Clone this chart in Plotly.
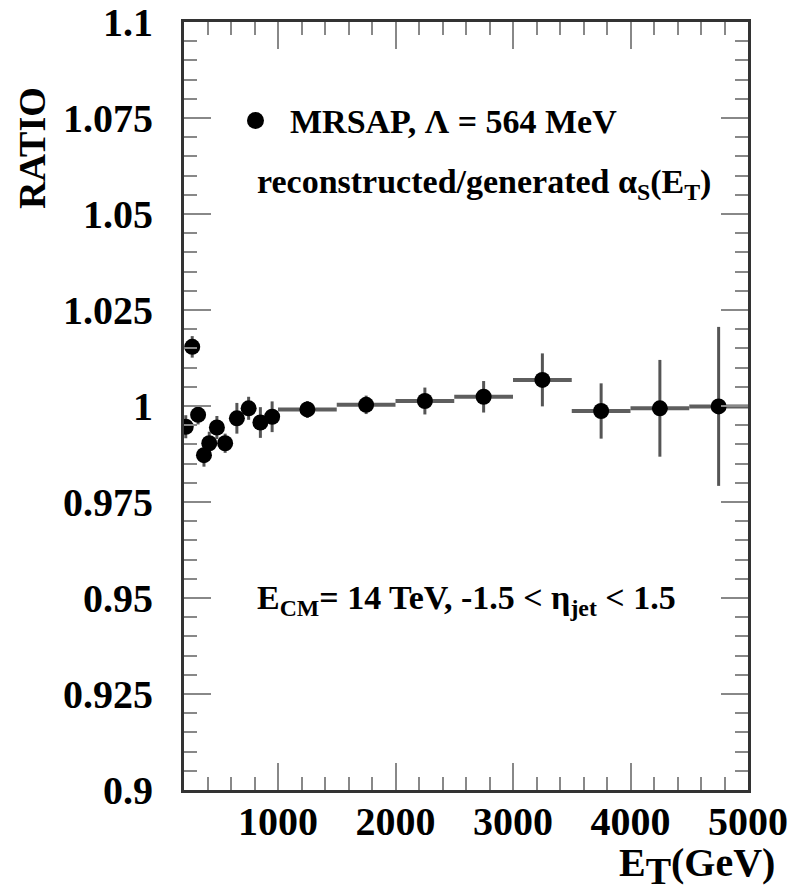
import plotly.graph_objects as go

# Data: E_T bin centres (GeV), ratio values, errors
et = [215, 270, 320, 370, 415, 480, 550, 650, 750, 850, 950,
      1250, 1750, 2250, 2750, 3250, 3750, 4250, 4750]
ratio = [0.9946, 1.0154, 0.9977, 0.9872, 0.9903, 0.9944, 0.9903, 0.9968, 0.9994, 0.9957, 0.9972,
         0.9991, 1.0003, 1.0013, 1.0024, 1.0068, 0.9987, 0.9994, 0.9999]
ratio_err = [0.003, 0.0028, 0.0025, 0.003, 0.003, 0.003, 0.0025, 0.004, 0.003, 0.004, 0.004,
             0.0022, 0.0024, 0.0035, 0.0041, 0.0069, 0.0072, 0.0126, 0.0207]
et_halfwidth = [15, 25, 25, 25, 25, 25, 50, 50, 50, 50, 50,
                250, 250, 250, 250, 250, 250, 250, 250]

x_ticks = [1000, 2000, 3000, 4000, 5000]
y_ticks = [0.9, 0.925, 0.95, 0.975, 1.0, 1.025, 1.05, 1.075, 1.1]
y_ticktext = ["0.9", "0.925", "0.95", "0.975", "1", "1.025", "1.05", "1.075", "1.1"]

FONT = "Liberation Serif"

fig = go.Figure()
fig.add_trace(go.Scatter(
    x=et, y=ratio, mode="markers",
    marker=dict(color="black", size=16, symbol="circle"),
    error_y=dict(type="data", array=ratio_err, color="#555555", thickness=3, width=0),
    error_x=dict(type="data", array=et_halfwidth, color="#5e5e5e", thickness=4, width=0),
    showlegend=False,
))

W, H = 793, 894
L, R, T, B = 184, 748, 22, 790


def px(x):
    return (x - L) / (R - L)


def py(y):
    return (B - y) / (B - T)


fig.update_layout(
    width=W, height=H,
    margin=dict(l=L, r=W - R, t=T, b=H - B),
    paper_bgcolor="white", plot_bgcolor="white",
    xaxis=dict(
        range=[200, 5000], tickvals=x_ticks, ticktext=[str(v) for v in x_ticks],
        ticks="inside", ticklen=27, tickwidth=2, tickcolor="#888888",
        minor=dict(dtick=200, tick0=0, ticks="inside", ticklen=13, tickwidth=2, tickcolor="#888888"),
        showline=True, linecolor="#333333", linewidth=3, mirror="allticks",
        showgrid=False, zeroline=False, automargin=False,
        tickfont=dict(family=FONT, size=40, color="black", weight="bold"),
        ticklabelstandoff=-6,
    ),
    yaxis=dict(
        range=[0.9, 1.1], tickvals=y_ticks, ticktext=y_ticktext,
        ticks="inside", ticklen=27, tickwidth=2, tickcolor="#888888",
        minor=dict(dtick=0.005, tick0=0.9, ticks="inside", ticklen=13, tickwidth=2, tickcolor="#888888"),
        showline=True, linecolor="#333333", linewidth=3, mirror="allticks",
        showgrid=False, zeroline=False, automargin=False,
        tickfont=dict(family=FONT, size=40, color="black", weight="bold"),
        ticklabelstandoff=20,
    ),
    font=dict(family=FONT, color="black"),
)

anns = [
    dict(text="MRSAP, Λ = 564 MeV", x=px(288), y=py(121), xanchor="left", yanchor="middle", size=34),
    dict(text="reconstructed/generated α<sub>S</sub>(E<sub>T</sub>)", x=px(255), y=py(184),
         xanchor="left", yanchor="middle", size=34),
    dict(text="E<sub>CM</sub>= 14 TeV, -1.5 &lt; η<sub>jet</sub> &lt; 1.5", x=px(255), y=py(600),
         xanchor="left", yanchor="middle", size=34),
    dict(text="E<sub><span style='font-size:38px'>T</span></sub>(GeV)", x=px(777), y=py(866),
         xanchor="right", yanchor="middle", size=40),
]
for a in anns:
    fig.add_annotation(text=a["text"], xref="paper", yref="paper", x=a["x"], y=a["y"],
                       xanchor=a["xanchor"], yanchor=a["yanchor"], showarrow=False,
                       font=dict(family=FONT, size=a["size"], color="black", weight="bold"))

fig.add_annotation(text="RATIO", xref="paper", yref="paper", x=px(32), y=py(148),
                   xanchor="center", yanchor="middle", textangle=-90, showarrow=False,
                   font=dict(family=FONT, size=38, color="black", weight="bold"))

# legend marker
fig.add_shape(type="circle", xref="paper", yref="paper",
              x0=px(247), x1=px(264), y0=py(112), y1=py(129),
              fillcolor="black", line=dict(color="black", width=0))

fig.write_html("out.html")
